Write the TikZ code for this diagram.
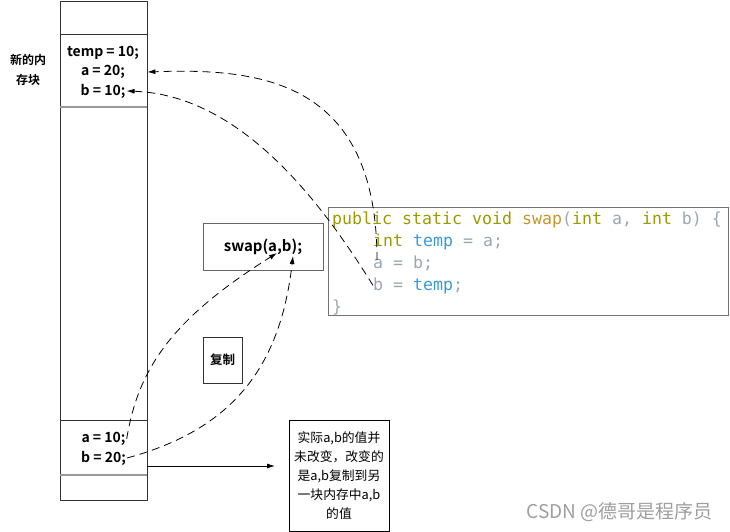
\documentclass[tikz,border=0pt]{standalone}
\usepackage{fontspec}
\setmainfont{Noto Sans CJK SC}[BoldFont={Noto Sans CJK SC Bold}]
\setmonofont{DejaVu Sans Mono}
\usepackage{xcolor}
\usetikzlibrary{arrows.meta,positioning,calc}

\definecolor{kwolive}{HTML}{9A9A00}
\definecolor{fnorange}{HTML}{C4952C}
\definecolor{varblue}{HTML}{3A9AD9}
\definecolor{plaingray}{HTML}{9AA6B2}

\begin{document}
\begin{tikzpicture}[
    x=1pt, y=-1pt,
    every node/.style={inner sep=1pt},
    memcol/.style={
        rectangle, draw=black!80, line width=0.8pt,
        minimum width=87pt, minimum height=499pt
    },
    val/.style={font=\bfseries\fontsize{14}{19}\selectfont},
    blklabel/.style={font=\bfseries\fontsize{12}{20}\selectfont, align=center},
    callbox/.style={
        rectangle, draw=black!60, line width=0.8pt,
        minimum width=120pt, minimum height=47pt,
        font=\bfseries\fontsize{15}{18}\selectfont
    },
    codebox/.style={
        rectangle, draw=black!55, line width=0.8pt,
        minimum width=400pt, minimum height=108pt
    },
    codeline/.style={
        anchor=base west, inner sep=0pt,
        font=\ttfamily\fontsize{16.6}{22}\selectfont, text=plaingray
    },
    copybox/.style={
        rectangle, draw=black!80, line width=0.8pt,
        minimum width=39pt, minimum height=46pt,
        font=\bfseries\fontsize{12.5}{15}\selectfont
    },
    notebox/.style={
        rectangle, draw=black, line width=0.8pt,
        minimum width=100pt, minimum height=111pt, align=center,
        font=\fontsize{12.8}{19}\selectfont
    },
    sep/.style={draw=black!40, line width=2pt},
    arr/.style={->, line width=0.8pt, >={Latex[length=8pt,width=5pt]}},
    darr/.style={arr, dash pattern=on 8pt off 5pt}
]
\useasboundingbox (0,0) rectangle (730,532);

% --- memory column ---
\node[memcol] (stack) at (103.5,250.5) {};
\draw[black!80, line width=0.8pt] (stack.west |- 0,34) -- (stack.east |- 0,34);
\draw[sep] (stack.west |- 0,107.5) -- (stack.east |- 0,107.5);
\draw[black!80, line width=0.8pt] (stack.west |- 0,420) -- (stack.east |- 0,420);
\draw[sep] (stack.west |- 0,475) -- (stack.east |- 0,475);

% --- new block ---
\node[blklabel] (newlbl) at (28,70) {新的内\\存块};
\node[val] (tmp10) at (103,53) {temp = 10;};
\node[val] (a20) at (103,72) {a = 20;};
\node[val] (b10) at (103,91) {b = 10;};

% --- caller block ---
\node[val] (a10) at (103.5,439) {a = 10;};
\node[val] (b20) at (103.5,458) {b = 20;};

% --- call ---
\node[callbox] (swap) at (263,246.5) {swap(a,b);};
\coordinate (swapA) at (277,253);
\coordinate (swapB) at (293,256);
\node[copybox] (copy) at (222.5,360) {复制};

% --- method body ---
\node[codebox] (code) at (528,261) {};
\node[codeline] (code1) at (332,224.5) {\textcolor{kwolive}{public static void} \textcolor{fnorange}{swap}(\textcolor{kwolive}{int} a, \textcolor{kwolive}{int} b) \{};
\node[codeline] (code2) at (373,246.5) {\textcolor{kwolive}{int} \textcolor{varblue}{temp} = a;};
\node[codeline] (code3) at (373,268) {a = b;};
\node[codeline] (code4) at (373,290) {b = \textcolor{varblue}{temp};};
\node[codeline] (code5) at (332,312) {\}};

% --- note ---
\node[notebox] (note) at (339,475.5) {实际a,b的值并\\未改变，改变的\\是a,b复制到另\\一块内存中a,b\\的值};
\coordinate (noteArrow) at (275,466);

\node[font=\fontsize{19}{22}\selectfont, text=black!38] (mark) at (619.5,512) {CSDN @德哥是程序员};

% --- Arrows ---
% copy of a and b passed to swap
\draw[darr] (a10.east) .. controls (138,370) and (170,320) .. (swapA);
\draw[darr] (b20.east) .. controls (230,430) and (280,370) .. (swapB);

% results written into the new block
\draw[darr] ([xshift=4pt,yshift=-5pt]code3.north west) .. controls (377,80) and (260,68) .. (stack.east |- a20);
\draw[darr] (code4.west) .. controls (320,200) and (240,95) .. (b10.east);

% note
\draw[arr] (stack.east |- noteArrow) -- (noteArrow);

\end{tikzpicture}
\end{document}
